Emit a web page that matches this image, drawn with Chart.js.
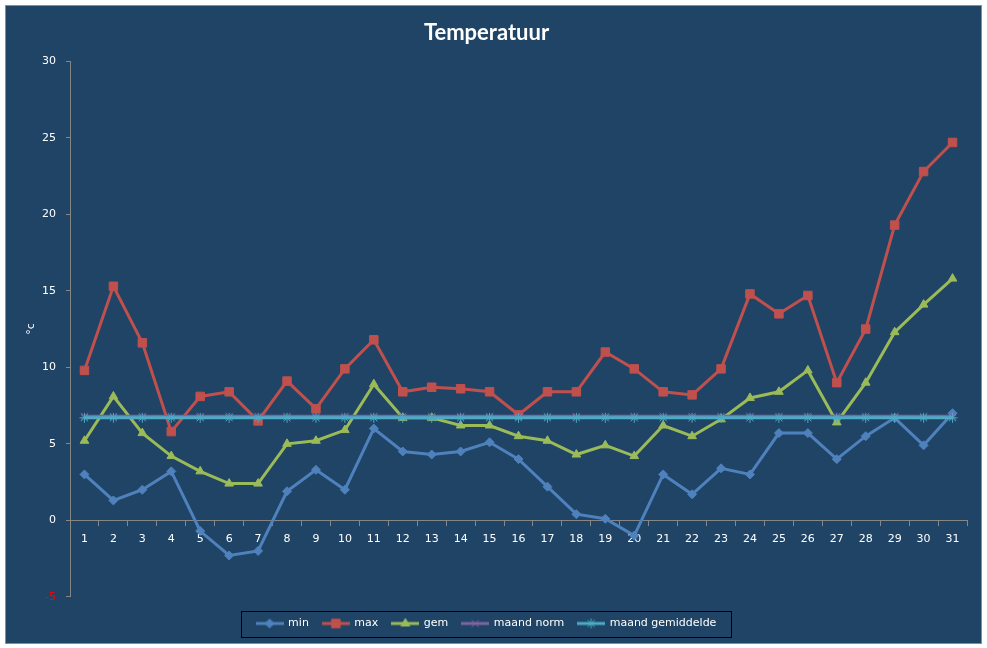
<!DOCTYPE html>
<html>
<head>
<meta charset="utf-8">
<title>Temperatuur</title>
<script src="https://cdn.jsdelivr.net/npm/chart.js@4.4.0/dist/chart.umd.min.js"></script>
<style>
	html, body { margin: 0; padding: 0; background: #ffffff; }
	#frame {
		position: absolute;
		left: 5px;
		top: 5px;
		width: 975px;
		height: 637px;
		border: 1px solid #8c8c8c;
		background: #1f4465;
	}
</style>
</head>
<body>
<div id="frame"><canvas id="tempChart" width="975" height="637"></canvas></div>
<script>
var days = ['1', '2', '3', '4', '5', '6', '7', '8', '9', '10', '11', '12', '13', '14', '15', '16',
	'17', '18', '19', '20', '21', '22', '23', '24', '25', '26', '27', '28', '29', '30', '31'];

var minTemp = [3.0, 1.3, 2.0, 3.2, -0.7, -2.3, -2.0, 1.9, 3.3, 2.0, 6.0, 4.5, 4.3, 4.5, 5.1, 4.0,
	2.2, 0.4, 0.1, -1.0, 3.0, 1.7, 3.4, 3.0, 5.7, 5.7, 4.0, 5.5, 6.7, 4.9, 7.0];
var maxTemp = [9.8, 15.3, 11.6, 5.8, 8.1, 8.4, 6.5, 9.1, 7.3, 9.9, 11.8, 8.4, 8.7, 8.6, 8.4, 6.9,
	8.4, 8.4, 11.0, 9.9, 8.4, 8.2, 9.9, 14.8, 13.5, 14.7, 9.0, 12.5, 19.3, 22.8, 24.7];
var gemTemp = [5.2, 8.1, 5.7, 4.2, 3.2, 2.4, 2.4, 5.0, 5.2, 5.9, 8.9, 6.7, 6.7, 6.2, 6.2, 5.5,
	5.2, 4.3, 4.9, 4.2, 6.2, 5.5, 6.6, 8.0, 8.4, 9.8, 6.4, 9.0, 12.3, 14.1, 15.8];
var maandNorm = [6.8, 6.8, 6.8, 6.8, 6.8, 6.8, 6.8, 6.8, 6.8, 6.8, 6.8, 6.8, 6.8, 6.8, 6.8, 6.8,
	6.8, 6.8, 6.8, 6.8, 6.8, 6.8, 6.8, 6.8, 6.8, 6.8, 6.8, 6.8, 6.8, 6.8, 6.8];
var maandGemiddelde = [6.7, 6.7, 6.7, 6.7, 6.7, 6.7, 6.7, 6.7, 6.7, 6.7, 6.7, 6.7, 6.7, 6.7, 6.7, 6.7,
	6.7, 6.7, 6.7, 6.7, 6.7, 6.7, 6.7, 6.7, 6.7, 6.7, 6.7, 6.7, 6.7, 6.7, 6.7];

var seriesStyle = [
	{ label: 'min', color: '#4f81bd', point: 'rectRot', radius: 4.5, width: 3 },
	{ label: 'max', color: '#c0504d', point: 'rect', radius: 6, width: 3 },
	{ label: 'gem', color: '#9bbb59', point: 'triangle', radius: 5, width: 3 },
	{ label: 'maand norm', color: '#8064a2', point: 'crossRot', radius: 5, width: 3 },
	{ label: 'maand gemiddelde', color: '#4bacc6', point: 'star', radius: 5, width: 3 }
];
var seriesData = [minTemp, maxTemp, gemTemp, maandNorm, maandGemiddelde];

// little line + marker pictures for the legend
function makeLegendIcon(s) {
	var c = document.createElement('canvas');
	c.width = 28;
	c.height = 12;
	var ctx = c.getContext('2d');
	ctx.strokeStyle = s.color;
	ctx.fillStyle = s.color;
	ctx.lineWidth = 3;
	ctx.beginPath();
	ctx.moveTo(0, 6);
	ctx.lineTo(28, 6);
	ctx.stroke();
	ctx.lineWidth = 1;
	Chart.helpers.drawPoint(ctx, { pointStyle: s.point, radius: s.radius, borderWidth: 1, rotation: 0 }, 14, 6);
	return c;
}

// black frame round the legend, like the original
var legendFrame = {
	id: 'legendFrame',
	afterDraw: function(chart) {
		var boxes = chart.legend.legendHitBoxes;
		if (!boxes || !boxes.length) return;
		var left = Infinity, right = -Infinity, mid = boxes[0].top + boxes[0].height / 2;
		boxes.forEach(function(b) {
			left = Math.min(left, b.left);
			right = Math.max(right, b.left + b.width);
		});
		var ctx = chart.ctx;
		ctx.save();
		ctx.strokeStyle = '#000000';
		ctx.lineWidth = 1;
		ctx.strokeRect(Math.round(left - 16) + 0.5, Math.round(mid - 13) + 0.5, Math.round(right - left + 30), 26);
		ctx.restore();
	}
};

function loadTempChart() {
	var legendIcons = seriesStyle.map(makeLegendIcon);
	var datasets = seriesStyle.map(function(s, i) {
		return {
			label: s.label,
			data: seriesData[i],
			borderColor: s.color,
			backgroundColor: s.color,
			borderWidth: s.width,
			pointStyle: s.point,
			pointRadius: s.radius,
			pointHoverRadius: s.radius,
			pointBorderWidth: 1,
			pointBorderColor: s.color,
			pointBackgroundColor: s.color,
			tension: 0,
			fill: false,
			order: seriesStyle.length - i
		};
	});

	var tempChart = new Chart(document.getElementById('tempChart'), {
		type: 'line',
		data: {
			labels: days,
			datasets: datasets
		},
		plugins: [legendFrame],
		options: {
			responsive: false,
			animation: false,
			layout: {
				padding: { left: 0, right: 14, top: 0, bottom: 4 }
			},
			scales: {
				x: {
					type: 'category',
					position: { y: 0 },
					offset: true,
					grid: {
						offset: true,
						drawOnChartArea: false,
						color: '#868686',
						tickLength: 5
					},
					border: { color: '#868686' },
					ticks: {
						color: '#ffffff',
						font: { family: 'DejaVu Sans', size: 11 },
						padding: 7,
						maxRotation: 0,
						autoSkip: false
					}
				},
				y: {
					min: -5,
					max: 30,
					afterFit: function(scale) { scale.width = 64; },
					grid: {
						drawOnChartArea: false,
						color: '#868686',
						tickLength: 4
					},
					border: { color: '#868686' },
					ticks: {
						stepSize: 5,
						padding: 10,
						font: { family: 'DejaVu Sans', size: 11 },
						color: function(ctx) { return ctx.tick.value < 0 ? '#ff0000' : '#ffffff'; }
					},
					title: {
						display: true,
						text: '°c',
						color: '#ffffff',
						font: { family: 'DejaVu Sans', size: 11 },
						padding: { top: 19, bottom: 0 }
					}
				}
			},
			plugins: {
				title: {
					display: true,
					text: 'Temperatuur',
					color: '#ffffff',
					font: { family: 'Lato', size: 22, weight: 'bold' },
					padding: { top: 14, bottom: 15 }
				},
				legend: {
					display: true,
					position: 'bottom',
					title: {
						display: true,
						text: '',
						font: { size: 6 },
						padding: 0
					},
					labels: {
						color: '#ffffff',
						font: { family: 'DejaVu Sans', size: 11 },
						usePointStyle: true,
						pointStyleWidth: 26,
						padding: 14,
						sort: function(a, b) { return a.datasetIndex - b.datasetIndex; },
						generateLabels: function(chart) {
							var items = Chart.defaults.plugins.legend.labels.generateLabels(chart);
							items.forEach(function(item) {
								item.pointStyle = legendIcons[item.datasetIndex];
							});
							return items;
						}
					}
				},
				tooltip: { enabled: false }
			}
		}
	});

	window.tempChart = tempChart;
}
loadTempChart();
</script>
</body>
</html>
